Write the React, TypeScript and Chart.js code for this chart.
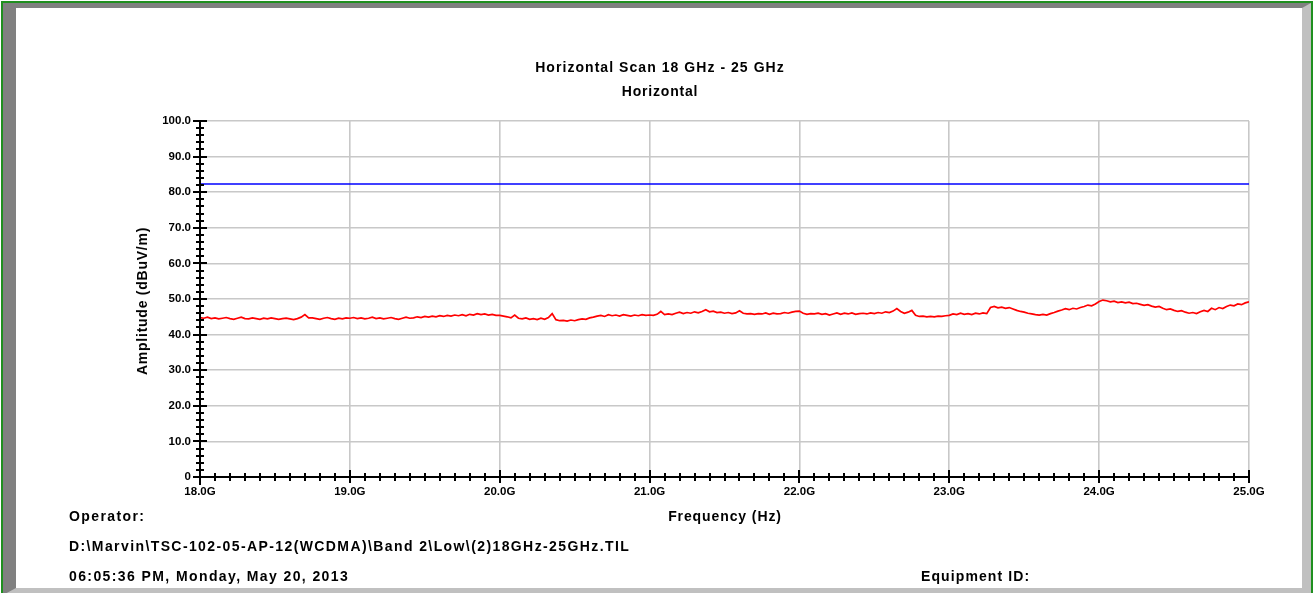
import React, { useEffect, useRef } from 'react';
import { Chart, registerables } from 'chart.js';

Chart.register(...registerables);

const FONT = "'Liberation Sans', Arial, Helvetica, sans-serif";

// ---- data ----
const titleLines = ['Horizontal Scan 18 GHz - 25 GHz', 'Horizontal'];
const xAxisTitle = 'Frequency (Hz)';
const yAxisTitle = 'Amplitude (dBuV/m)';
const operatorLabel = 'Operator:';
const filePath = 'D:\\Marvin\\TSC-102-05-AP-12(WCDMA)\\Band 2\\Low\\(2)18GHz-25GHz.TIL';
const timestamp = '06:05:36 PM, Monday, May 20, 2013';
const equipmentLabel = 'Equipment ID:';

const freqMin = 18.0;
const freqMax = 25.0;
const freqStart = 18.0;
const freqStep = 0.025; // GHz per sweep point
const ampMin = 0;
const ampMax = 100;
const xMajorStep = 1;
const xMinorStep = 0.1;
const yMajorStep = 10;
const yMinorStep = 2;

const limitFreqs = [18.0, 25.0];
const limitValues = [82.3, 82.3];

const trace18 = [
  44.8, 44.6, 44.9, 44.5, 44.7, 44.4, 44.6, 44.8, 44.5, 44.3,
  44.6, 44.9, 44.5, 44.4, 44.7, 44.5, 44.3, 44.6, 44.4, 44.7,
  44.5, 44.3, 44.5, 44.6, 44.4, 44.2, 44.5, 44.9, 45.6, 44.7,
  44.7, 44.5, 44.3, 44.6, 44.8, 44.5, 44.3, 44.6, 44.4, 44.7,
];
const trace19 = [
  44.6, 44.8, 44.5, 44.7, 44.4, 44.6, 44.9, 44.5, 44.7, 44.4,
  44.6, 44.8, 44.5, 44.3, 44.6, 44.9, 44.6, 44.7, 45.0, 44.8,
  45.1, 44.9, 45.2, 45.0, 45.3, 45.1, 45.4, 45.2, 45.5, 45.3,
  45.6, 45.3, 45.7, 45.5, 45.9, 45.6, 45.8, 45.5, 45.7, 45.4,
];
const trace20 = [
  45.4, 45.2, 45.0, 44.7, 45.5, 44.6, 44.4, 44.7, 44.3, 44.5,
  44.2, 44.6, 44.3, 44.8, 45.9, 44.2, 43.9, 44.0, 43.8, 44.1,
  43.9, 44.2, 44.4, 44.3, 44.7, 44.9, 45.2, 45.4, 45.1, 45.6,
  45.3, 45.5, 45.2, 45.6, 45.4, 45.2, 45.5, 45.3, 45.6, 45.4,
];
const trace21 = [
  45.5, 45.4, 45.7, 46.5, 45.6, 45.8, 45.6, 46.0, 46.3, 45.9,
  46.2, 46.0, 46.4, 46.1, 46.5, 47.0, 46.4, 46.6, 46.2, 46.3,
  46.0, 46.2, 45.9, 46.1, 46.7, 46.0, 45.8, 45.9, 45.7, 45.9,
  45.8, 46.1, 45.7, 46.0, 45.8, 45.9, 46.2, 46.0, 46.3, 46.5,
];
const trace22 = [
  46.6, 46.0, 45.7, 45.9, 45.8, 46.0, 45.7, 45.9, 45.5, 45.8,
  46.1, 45.7, 46.0, 45.8, 46.1, 45.7, 45.9, 46.0, 45.8, 46.1,
  45.9, 46.2, 46.0, 46.4, 46.2, 46.6, 47.3, 46.5, 46.0, 46.3,
  46.8, 45.4, 45.1, 45.2, 45.0, 45.1, 45.0, 45.2, 45.1, 45.3,
];
const trace23 = [
  45.4, 45.8, 45.6, 46.0, 45.7, 45.9, 45.6, 46.0, 45.8, 46.1,
  45.9, 47.6, 47.9, 47.5, 47.7, 47.4, 47.6, 47.2, 46.8, 46.5,
  46.3, 46.0, 45.8, 45.6, 45.5, 45.7, 45.5, 45.9, 46.2, 46.6,
  46.9, 47.3, 47.0, 47.4, 47.2, 47.6, 47.9, 48.3, 48.1, 48.6,
];
const trace24 = [
  49.3, 49.7, 49.5, 49.2, 49.4, 49.0, 49.2, 48.9, 49.1, 48.7,
  48.8, 48.5, 48.2, 48.4, 48.0, 47.7, 47.9, 47.4, 47.0, 47.2,
  46.8, 46.5, 46.7, 46.3, 46.0, 46.2, 45.9, 46.4, 46.8, 46.5,
  47.4, 47.0, 47.6, 47.3, 47.9, 48.3, 48.1, 48.6, 48.4, 48.9,
];
const trace25 = [49.2];

const amplitudeTrace = [
  ...trace18, ...trace19, ...trace20, ...trace21,
  ...trace22, ...trace23, ...trace24, ...trace25,
];

// ---- axes drawing plugin (axis lines + major/minor tick marks) ----
const axisPlugin = {
  id: 'emcAxes',
  afterDraw(chart: any) {
    const { ctx, chartArea } = chart;
    const xs = chart.scales.x;
    const ys = chart.scales.y;
    const left = xs.getPixelForValue(freqMin);
    const bottom = ys.getPixelForValue(ampMin);
    ctx.save();
    ctx.strokeStyle = '#000000';
    ctx.lineWidth = 2;
    ctx.lineCap = 'butt';
    ctx.beginPath();
    // y axis
    ctx.moveTo(left, chartArea.top);
    ctx.lineTo(left, bottom + 8);
    // x axis
    ctx.moveTo(left, bottom);
    ctx.lineTo(xs.getPixelForValue(freqMax), bottom);
    // y ticks
    for (let v = ampMin; v <= ampMax + 1e-9; v += yMinorStep) {
      const y = Math.round(ys.getPixelForValue(v));
      const major = Math.abs(v / yMajorStep - Math.round(v / yMajorStep)) < 1e-6;
      ctx.moveTo(left - (major ? 7 : 4), y);
      ctx.lineTo(left + (major ? 7 : 4), y);
    }
    // x ticks
    const nMinor = Math.round((freqMax - freqMin) / xMinorStep);
    for (let i = 1; i <= nMinor; i++) {
      const v = freqMin + i * xMinorStep;
      const x = Math.round(xs.getPixelForValue(v));
      const major = i % Math.round(xMajorStep / xMinorStep) === 0;
      ctx.moveTo(x, bottom - (major ? 7 : 4));
      ctx.lineTo(x, bottom + (major ? 6 : 4));
    }
    ctx.stroke();
    ctx.restore();
  },
};

const textBase: React.CSSProperties = {
  position: 'absolute',
  fontFamily: FONT,
  fontWeight: 'bold',
  fontSize: 14,
  lineHeight: '1',
  color: '#000',
  whiteSpace: 'nowrap',
  letterSpacing: '0.9px',
  zIndex: 3,
};

export default function App() {
  const canvasRef = useRef<HTMLCanvasElement>(null);

  useEffect(() => {
    document.body.style.margin = '0';
    const canvas = canvasRef.current;
    if (!canvas) return;
    const tracePoints = amplitudeTrace.map((v, i) => ({ x: freqStart + i * freqStep, y: v }));
    const limitPoints = limitFreqs.map((f, i) => ({ x: f, y: limitValues[i] }));
    const tickFont = { family: FONT, size: 11.5, weight: 'bold' as const };
    const chart = new Chart(canvas, {
      type: 'line',
      data: {
        datasets: [
          {
            label: 'Limit',
            data: limitPoints,
            borderColor: '#0000ff',
            borderWidth: 1.6,
            pointRadius: 0,
            tension: 0,
          },
          {
            label: 'Horizontal',
            data: tracePoints,
            borderColor: '#ff0000',
            borderWidth: 1.7,
            pointRadius: 0,
            tension: 0,
          },
        ],
      },
      options: {
        animation: false,
        responsive: false,
        maintainAspectRatio: false,
        devicePixelRatio: 1,
        layout: { padding: { top: 121, left: 0, right: 64, bottom: 96 } },
        plugins: {
          legend: { display: false },
          tooltip: { enabled: false },
          title: { display: false },
        },
        scales: {
          x: {
            type: 'linear',
            min: freqMin,
            max: freqMax,
            afterFit: (s: any) => {
              s.height = 20;
            },
            ticks: {
              stepSize: xMajorStep,
              autoSkip: false,
              maxRotation: 0,
              padding: 8,
              color: '#000000',
              font: tickFont,
              callback: (v: any) => Number(v).toFixed(1) + 'G',
            },
            grid: { color: '#c8c8c8', lineWidth: 1.6, drawTicks: false },
            border: { display: false },
          },
          y: {
            type: 'linear',
            min: ampMin,
            max: ampMax,
            afterFit: (s: any) => {
              s.width = 200;
            },
            ticks: {
              stepSize: yMajorStep,
              padding: 9,
              color: '#000000',
              font: tickFont,
              callback: (v: any) => (Number(v) === 0 ? '0' : Number(v).toFixed(1)),
            },
            grid: { color: '#c8c8c8', lineWidth: 1.6, drawTicks: false },
            border: { display: false },
          },
        },
      },
      plugins: [axisPlugin],
    });
    return () => chart.destroy();
  }, []);

  return (
    <div style={{ position: 'relative', width: 1313, height: 593, overflow: 'hidden', background: '#ffffff' }}>
      {/* green outer frame */}
      <div
        style={{
          position: 'absolute',
          left: 1,
          top: 1,
          width: 1312,
          height: 597,
          boxSizing: 'border-box',
          border: '2px solid #1f8f1f',
          zIndex: 0,
        }}
      />
      {/* bevel */}
      <div
        style={{
          position: 'absolute',
          left: 3,
          top: 3,
          width: 1308,
          height: 592,
          boxSizing: 'border-box',
          borderTop: '5px solid #808080',
          borderLeft: '13px solid #808080',
          borderRight: '9px solid #c0c0c0',
          borderBottom: '7px solid #c0c0c0',
          background: '#ffffff',
          zIndex: 1,
        }}
      />
      <canvas
        ref={canvasRef}
        width={1313}
        height={593}
        style={{ position: 'absolute', left: 0, top: 0, width: 1313, height: 593, zIndex: 2 }}
      />
      <div style={{ ...textBase, left: 660, top: 67, transform: 'translate(-50%, -50%)', letterSpacing: '1.05px' }}>
        {titleLines[0]}
      </div>
      <div style={{ ...textBase, left: 660, top: 91, transform: 'translate(-50%, -50%)', letterSpacing: '0.8px' }}>
        {titleLines[1]}
      </div>
      <div style={{ ...textBase, left: 142, top: 301, transform: 'translate(-50%, -50%) rotate(-90deg)', letterSpacing: '0.75px' }}>
        {yAxisTitle}
      </div>
      <div style={{ ...textBase, left: 725, top: 516, transform: 'translate(-50%, -50%)', letterSpacing: '0.9px' }}>
        {xAxisTitle}
      </div>
      <div style={{ ...textBase, left: 69, top: 516, transform: 'translateY(-50%)', letterSpacing: '1.4px' }}>
        {operatorLabel}
      </div>
      <div style={{ ...textBase, left: 69, top: 546, transform: 'translateY(-50%)', letterSpacing: '1.4px' }}>
        {filePath}
      </div>
      <div style={{ ...textBase, left: 69, top: 576, transform: 'translateY(-50%)', letterSpacing: '1.4px' }}>
        {timestamp}
      </div>
      <div style={{ ...textBase, left: 921, top: 576, transform: 'translateY(-50%)', letterSpacing: '1.1px' }}>
        {equipmentLabel}
      </div>
    </div>
  );
}
